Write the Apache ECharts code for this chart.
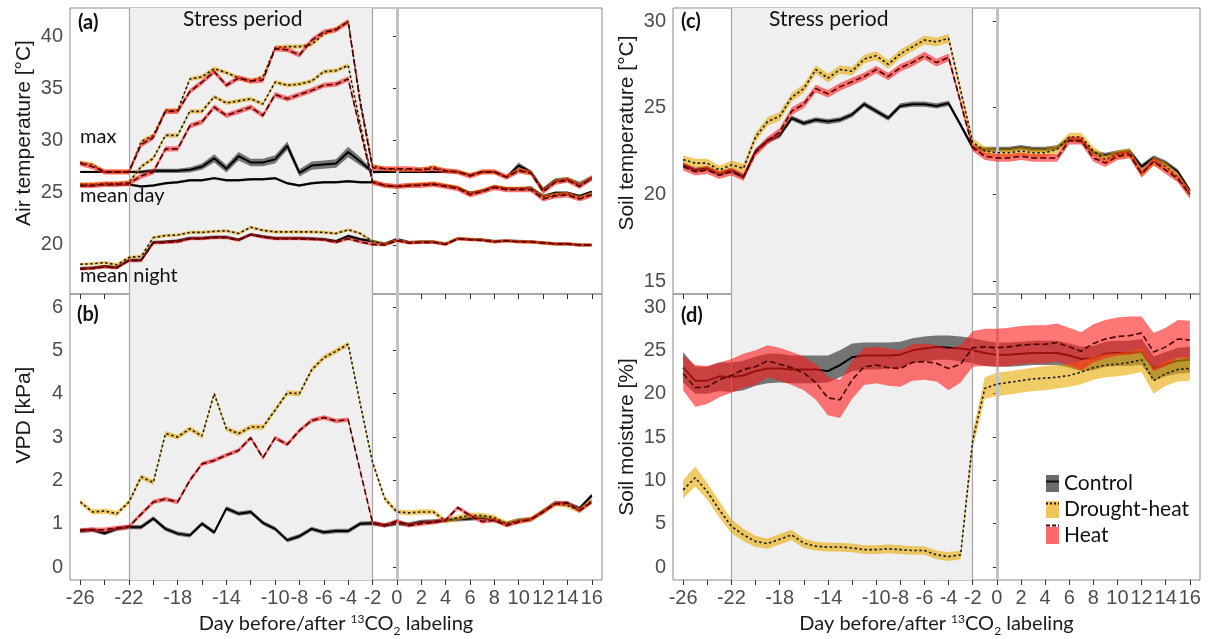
<!DOCTYPE html>
<html><head><meta charset="utf-8">
<script src="https://cdn.jsdelivr.net/npm/echarts@6/dist/echarts.min.js"></script>
<style>html,body{margin:0;padding:0;background:#fff}#c{width:1217px;height:639px}</style>
</head><body><div id="c"></div>
<script>
// ---------- data ----------
const days = [-26,-25,-24,-23,-22,-21,-20,-19,-18,-17,-16,-15,-14,-13,-12,-11,-10,-9,-8,-7,-6,-5,-4,-3,-2,-1,0,1,2,3,4,5,6,7,8,9,10,11,12,13,14,15,16];
const tickDays = [-26,-24,-22,-20,-18,-16,-14,-12,-10,-8,-6,-4,-2,0,2,4,6,8,10,12,14,16];
const labelDays = [-26,-22,-18,-14,-10,-8,-6,-4,-2,0,2,4,6,8,10,12,14,16];
const stressStart = -22, stressEnd = -2, labelDay = 0;

// (a) air temperature
const airMaxControl = [27.0,27.0,27.0,27.0,27.0,27.0,27.1,27.1,27.1,27.2,27.5,28.3,27.3,28.5,27.9,27.9,28.2,29.5,26.9,27.6,27.7,27.8,28.9,28.0,27.0,27.0,27.0,27.0,27.0,27.0,27.0,27.0,26.7,27.0,27.0,26.5,27.6,27.0,25.3,26.2,26.3,25.8,26.4];
const airMaxControlSe = [0.1,0.1,0.1,0.1,0.1,0.15,0.2,0.2,0.2,0.25,0.3,0.4,0.35,0.4,0.35,0.35,0.4,0.4,0.35,0.4,0.4,0.4,0.5,0.4,0.15,0.1,0.1,0.1,0.1,0.1,0.1,0.1,0.15,0.1,0.1,0.15,0.3,0.15,0.2,0.2,0.2,0.25,0.25];
const airMaxDrought = [27.9,27.7,27.0,27.0,27.0,29.9,30.5,32.9,32.9,35.9,36.1,36.9,36.5,36.0,35.7,36.1,38.9,39.0,39.0,39.2,40.2,40.7,41.4,33.8,27.6,27.3,27.2,27.2,27.2,27.5,27.1,27.0,26.7,27.0,27.0,26.5,27.2,26.9,25.2,26.1,26.3,25.7,26.5];
const airMaxHeat = [27.8,27.5,27.0,27.0,27.0,29.6,30.3,32.8,32.8,34.7,35.6,36.6,35.3,36.0,35.7,35.8,38.8,38.7,38.2,39.6,40.4,40.6,41.4,33.5,27.4,27.3,27.3,27.3,27.2,27.3,27.1,27.0,26.6,27.0,27.0,26.5,27.1,26.9,25.1,26.0,26.2,25.6,26.4];
const airDayControl = [25.7,25.7,25.8,25.8,25.8,25.6,25.7,25.9,26.0,26.2,26.2,26.4,26.2,26.2,26.3,26.3,26.4,25.9,25.7,25.9,26.0,26.0,26.1,26.0,26.0,25.7,25.6,25.7,25.8,25.8,25.7,25.5,25.0,25.2,25.6,25.4,25.4,25.5,24.7,25.0,25.0,24.7,25.1];
const airDayDrought = [25.8,25.8,25.9,25.9,26.0,27.5,28.3,30.5,30.5,32.8,32.8,34.2,33.6,33.8,34.0,33.5,35.6,35.3,35.4,35.7,36.6,36.7,37.2,31.5,26.1,25.7,25.6,25.7,25.8,25.9,25.7,25.5,24.9,25.2,25.6,25.4,25.4,25.4,24.6,24.8,24.9,24.5,24.9];
const airDayHeat = [25.7,25.7,25.8,25.8,25.9,26.6,27.0,29.2,29.2,31.4,31.8,33.2,32.4,32.8,33.2,32.4,34.4,34.0,34.4,34.8,35.3,35.4,35.9,31.0,26.0,25.7,25.6,25.7,25.7,25.8,25.6,25.4,24.8,25.1,25.5,25.3,25.3,25.3,24.4,24.7,24.8,24.4,24.8];
const airNightControl = [17.75,17.8,17.95,17.85,18.55,18.55,20.25,20.3,20.4,20.65,20.65,20.75,20.75,20.5,21.0,20.8,20.65,20.65,20.65,20.6,20.55,20.35,20.85,20.55,20.35,20.1,20.55,20.25,20.3,20.3,20.1,20.6,20.55,20.5,20.35,20.4,20.35,20.3,20.2,20.1,20.1,20.0,20.0];
const airNightDrought = [18.15,18.2,18.3,18.1,18.8,18.9,20.7,20.9,20.95,21.2,21.2,21.3,21.35,21.1,21.7,21.4,21.25,21.25,21.25,21.25,21.2,21.1,21.45,21.1,20.35,20.05,20.45,20.2,20.3,20.3,20.1,20.6,20.55,20.45,20.3,20.4,20.3,20.3,20.2,20.1,20.1,20.0,20.0];
const airNightHeat = [17.7,17.75,17.9,17.8,18.5,18.5,20.2,20.25,20.3,20.6,20.6,20.7,20.7,20.45,21.0,20.75,20.6,20.6,20.6,20.55,20.5,20.25,20.6,20.3,20.05,20.0,20.4,20.2,20.25,20.25,20.05,20.6,20.5,20.45,20.3,20.4,20.3,20.3,20.2,20.1,20.1,20.0,20.0];
const airSeDrought = 0.2, airSeHeat = 0.25, airNightSe = 0.15;

// (b) VPD
const vpdControl = [0.83,0.86,0.78,0.88,0.92,0.92,1.12,0.88,0.77,0.73,1.0,0.8,1.35,1.23,1.27,1.02,0.88,0.62,0.71,0.88,0.8,0.83,0.83,1.0,1.01,0.96,1.01,0.98,1.04,1.05,1.08,1.1,1.12,1.14,1.08,1.0,1.08,1.1,1.29,1.48,1.46,1.35,1.65];
const vpdDrought = [1.5,1.27,1.29,1.23,1.5,2.08,1.95,3.08,3.0,3.19,3.02,4.0,3.19,3.08,3.23,3.23,3.62,4.02,4.0,4.55,4.83,4.98,5.14,3.75,2.42,1.58,1.27,1.25,1.27,1.27,1.06,1.14,1.19,1.19,1.14,1.0,1.06,1.1,1.27,1.46,1.42,1.3,1.54];
const vpdHeat = [0.85,0.86,0.86,0.9,0.93,1.22,1.5,1.57,1.5,2.0,2.38,2.46,2.58,2.69,2.98,2.52,2.98,2.83,3.15,3.38,3.45,3.37,3.4,2.2,1.02,0.96,1.06,0.96,1.0,1.03,1.08,1.37,1.19,1.05,1.08,0.96,1.04,1.1,1.27,1.46,1.48,1.3,1.5];
const vpdSeControl = 0.05, vpdSeDrought = 0.06, vpdSeHeat = 0.05;

// (c) soil temperature
const soilControl = [21.7,21.4,21.5,21.2,21.4,21.0,22.5,23.1,23.4,24.4,24.1,24.3,24.2,24.3,24.6,25.2,24.8,24.4,25.1,25.2,25.2,25.1,25.25,24.0,22.7,22.6,22.6,22.6,22.7,22.6,22.6,22.7,23.2,23.1,22.4,22.25,22.4,22.5,21.6,22.1,21.8,21.3,20.2];
const soilDrought = [22.0,21.8,21.8,21.4,21.7,21.5,23.3,24.2,24.5,25.6,26.1,27.2,26.7,27.2,27.1,27.8,28.0,27.5,28.1,28.5,28.9,28.8,29.0,26.0,23.0,22.5,22.4,22.4,22.5,22.4,22.4,22.6,23.3,23.3,22.5,22.0,22.3,22.4,21.2,21.9,21.6,21.0,20.0];
const soilHeat = [21.6,21.3,21.4,21.1,21.3,21.0,22.4,23.1,23.6,24.8,25.2,26.1,25.8,26.2,26.5,26.8,27.2,26.8,27.3,27.6,28.0,27.6,27.9,25.3,22.7,22.2,22.1,22.1,22.2,22.1,22.1,22.1,23.1,23.1,22.1,21.8,22.2,22.3,21.2,21.9,21.4,20.9,20.0];
const soilSeControl = 0.15, soilSeDrought = 0.25, soilSeHeat = 0.22;

// (d) soil moisture
const smControl = [23.0,21.5,21.5,22.0,21.9,22.1,22.6,22.9,22.9,22.8,22.8,22.8,22.6,23.3,24.2,24.4,24.4,24.4,24.5,25.0,25.2,25.4,25.3,25.2,25.0,24.7,24.5,24.5,24.6,24.7,24.7,24.7,24.4,24.0,24.1,24.6,24.7,24.7,24.8,22.9,23.4,23.8,23.9];
const smControlLo = [21.3,20.0,20.0,20.3,20.2,20.4,20.9,21.2,21.3,21.2,21.2,21.2,21.3,21.9,22.6,22.8,22.8,22.9,23.0,23.5,23.7,23.9,23.9,23.7,23.5,23.2,23.1,23.1,23.2,23.3,23.3,23.3,23.0,22.6,22.7,23.1,23.2,23.2,23.3,21.5,22.0,22.3,22.4];
const smControlHi = [24.8,23.1,23.1,23.6,23.6,23.8,24.3,24.6,24.6,24.4,24.4,24.4,24.4,25.0,25.8,25.9,25.9,25.9,26.0,26.4,26.6,26.7,26.7,26.6,26.4,26.1,25.9,25.9,26.0,26.1,26.1,26.1,25.8,25.4,25.5,26.0,26.1,26.1,26.3,24.3,24.8,25.3,25.4];
const smDrought = [8.9,10.3,8.7,6.6,4.7,3.7,2.95,2.7,3.2,3.7,2.75,2.4,2.3,2.3,2.2,2.0,2.0,2.1,2.0,1.9,1.9,1.4,1.2,1.4,14.6,20.6,21.1,21.3,21.5,21.7,21.8,21.9,22.1,22.5,23.0,23.3,23.4,23.6,23.9,21.5,22.3,22.8,22.9];
const smDroughtLo = [7.9,9.3,7.8,5.7,3.9,3.0,2.3,2.1,2.6,3.1,2.2,1.9,1.8,1.8,1.7,1.5,1.5,1.6,1.5,1.4,1.4,0.9,0.7,0.9,13.6,19.4,19.7,19.9,20.1,20.3,20.4,20.6,20.8,21.1,21.6,21.9,22.0,22.2,22.5,20.0,20.9,21.4,21.5];
const smDroughtHi = [10.0,11.6,9.7,7.6,5.5,4.4,3.6,3.3,3.8,4.3,3.3,2.9,2.8,2.8,2.7,2.5,2.5,2.6,2.5,2.4,2.4,1.9,1.7,1.9,15.6,21.9,22.4,22.6,22.8,23.0,23.2,23.3,23.4,23.8,24.3,24.6,24.7,24.9,25.3,23.0,23.7,24.2,24.3];
const smHeat = [22.3,20.7,20.8,21.6,22.1,22.8,23.1,23.8,23.4,23.0,22.4,21.3,19.5,19.3,21.6,23.1,23.3,23.0,22.9,23.6,23.7,23.5,22.9,23.4,25.3,25.4,25.3,25.4,25.6,25.7,25.7,25.9,25.4,24.9,25.8,26.3,26.6,26.7,27.0,24.8,25.4,26.3,26.2];
const smHeatLo = [20.4,18.5,18.8,19.6,20.1,20.7,21.0,21.9,21.5,21.0,20.4,19.3,17.5,17.2,19.4,21.0,21.2,20.9,20.8,21.5,21.6,21.4,20.4,21.3,23.1,23.2,23.1,23.2,23.4,23.5,23.5,23.7,23.2,22.7,23.6,24.1,24.4,24.5,24.8,22.6,23.2,24.1,24.0];
const smHeatHi = [24.4,23.3,23.2,23.6,24.0,24.6,25.0,25.6,25.3,24.8,24.3,23.4,21.9,21.6,23.7,25.3,25.4,25.2,25.0,25.7,25.8,25.6,25.2,25.6,27.2,27.5,27.5,27.6,27.8,27.9,27.9,28.1,27.6,27.1,28.0,28.5,28.8,28.9,28.9,27.0,27.6,28.5,28.4];

const treatments = ['Control','Drought-heat','Heat'];
const yTicksA = [20,25,30,35,40], yTicksB = [0,1,2,3,4,5,6], yTicksC = [15,20,25,30], yTicksD = [0,5,10,15,20,25,30];

// ---------- styles ----------
const fillC = 'rgba(40,40,40,0.62)', fillD = 'rgba(230,168,0,0.6)', fillH = 'rgba(255,26,26,0.6)';
const lnC = {color:'#000', width:2, type:'solid'};
const lnD = {color:'#1a1a1a', width:1.6, type:[2.5,2.5]};
const lnH = {color:'#4a0000', width:1.6, type:[6,3]};
const tickFont = 'Liberation Sans';
const txtFont = 'Lato';

const grids = [
  {left:70, top:8, width:532, height:286},
  {left:70, top:294, width:532, height:286},
  {left:673, top:8, width:527, height:286},
  {left:673, top:294, width:527, height:286}
].map(g => Object.assign(g, {show:true, borderColor:'#8a8a8a', borderWidth:1, backgroundColor:'transparent', containLabel:false, outerBoundsMode:'none'}));

function xAx(i, labels, name) {
  return {
    type:'value', gridIndex:i, min:-26.84, max:16.84,
    splitLine:{show:false},
    axisLine:{show:false, onZero:false},
    axisTick:{show:true, customValues:tickDays, length:5, lineStyle:{color:'#333', width:1}},
    axisLabel:{show:labels, customValues:labelDays, fontFamily:tickFont, fontSize:20, color:'#4d4d4d', margin:8},
    name: name || '', nameLocation:'middle', nameGap:31,
    nameTextStyle:{ rich:{
      t:{fontFamily:txtFont, fontSize:20, color:'#1a1a1a', lineHeight:26},
      s:{fontFamily:txtFont, fontSize:12, color:'#1a1a1a', lineHeight:26, verticalAlign:'top', padding:[2,0,0,0]},
      b:{fontFamily:txtFont, fontSize:12, color:'#1a1a1a', lineHeight:26, verticalAlign:'bottom'}
    }}
  };
}
function yAx(i, min, max, ticks, name, pad) {
  return {
    type:'value', gridIndex:i, min, max,
    splitLine:{show:false},
    axisLine:{show:false},
    axisTick:{show:true, customValues:ticks, length:4, lineStyle:{color:'#333', width:1}},
    axisLabel:{customValues:ticks, fontFamily:tickFont, fontSize:20, color:'#4d4d4d', margin:7},
    name, nameLocation:'middle', nameGap:35,
    nameTextStyle:{fontFamily:tickFont, fontSize:21, color:'#1a1a1a', padding:pad}
  };
}
const xTitle = '{t|Day before/after }{s|13}{t|CO}{b|2}{t| labeling}';

function band(name, gi, lo, hi, color, z) {
  return {
    type:'custom', name, xAxisIndex:gi, yAxisIndex:gi, z, silent:true, clip:true, animation:false,
    itemStyle:{color},
    data: days.map((d,i)=>[d, lo[i], hi[i]]),
    encode:{x:0, y:[1,2]},
    renderItem(params, api) {
      if (params.dataIndexInside !== 0) return null;
      const pts = [];
      for (let i=0;i<days.length;i++) pts.push(api.coord([days[i], hi[i]]));
      for (let i=days.length-1;i>=0;i--) pts.push(api.coord([days[i], lo[i]]));
      return {type:'polygon', shape:{points:pts}, style:{fill:color}};
    }
  };
}
function pm(vals, se) { // ribbon bounds from mean and read-off half-width
  const lo = vals.map((v,i)=> v - (Array.isArray(se)?se[i]:se));
  const hi = vals.map((v,i)=> v + (Array.isArray(se)?se[i]:se));
  return [lo, hi];
}
function line(name, gi, vals, style, z) {
  return {type:'line', name, xAxisIndex:gi, yAxisIndex:gi, z, silent:true, showSymbol:false, symbol:'none', animation:false,
    data: days.map((d,i)=>[d, vals[i]]), lineStyle:style};
}
function backdrop(gi, vals) {
  return {type:'line', name:'bg'+gi, xAxisIndex:gi, yAxisIndex:gi, z:1, silent:true, showSymbol:false, symbol:'none', animation:false,
    data: days.map((d,i)=>[d, vals[i]]), lineStyle:{opacity:0},
    markArea:{silent:true, itemStyle:{color:'#efefef'}, data:[[{xAxis:stressStart},{xAxis:stressEnd}]]},
    markLine:{silent:true, symbol:['none','none'], label:{show:false}, animation:false,
      data:[{xAxis:stressStart, lineStyle:{color:'#a6a6a6', width:1.2, type:'solid'}},
            {xAxis:stressEnd, lineStyle:{color:'#a6a6a6', width:1.2, type:'solid'}},
            {xAxis:labelDay, lineStyle:{color:'#c4c4c4', width:3, type:'solid'}}]}
  };
}

const series = [];
// panel a
series.push(backdrop(0, airMaxControl));
[[airMaxControl, airMaxControlSe],[airDayControl, 0.12],[airNightControl, airNightSe]].forEach(([v,s],k)=>{
  const [lo,hi] = pm(v,s); series.push(band('aC'+k,0,lo,hi,fillC,2)); series.push(line('aCl'+k,0,v,lnC,3));
});
[airMaxDrought, airDayDrought, airNightDrought].forEach((v,k)=>{
  const [lo,hi] = pm(v, k===2?airNightSe:airSeDrought); series.push(band('aD'+k,0,lo,hi,fillD,4)); series.push(line('aDl'+k,0,v,lnD,5));
});
[airMaxHeat, airDayHeat, airNightHeat].forEach((v,k)=>{
  const [lo,hi] = pm(v, k===2?airNightSe:airSeHeat); series.push(band('aH'+k,0,lo,hi,fillH,6)); series.push(line('aHl'+k,0,v,lnH,7));
});
// panel b
series.push(backdrop(1, vpdControl));
(()=>{ const [lo,hi]=pm(vpdControl,vpdSeControl); series.push(band('bC',1,lo,hi,fillC,2)); series.push(line('bCl',1,vpdControl,lnC,3)); })();
(()=>{ const [lo,hi]=pm(vpdDrought,vpdSeDrought); series.push(band('bD',1,lo,hi,fillD,4)); series.push(line('bDl',1,vpdDrought,lnD,5)); })();
(()=>{ const [lo,hi]=pm(vpdHeat,vpdSeHeat); series.push(band('bH',1,lo,hi,fillH,6)); series.push(line('bHl',1,vpdHeat,lnH,7)); })();
// panel c
series.push(backdrop(2, soilControl));
(()=>{ const [lo,hi]=pm(soilControl,soilSeControl); series.push(band('cC',2,lo,hi,fillC,2)); series.push(line('cCl',2,soilControl,lnC,3)); })();
(()=>{ const [lo,hi]=pm(soilDrought,soilSeDrought); series.push(band('cD',2,lo,hi,fillD,4)); series.push(line('cDl',2,soilDrought,lnD,5)); })();
(()=>{ const [lo,hi]=pm(soilHeat,soilSeHeat); series.push(band('cH',2,lo,hi,fillH,6)); series.push(line('cHl',2,soilHeat,lnH,7)); })();
// panel d
series.push(backdrop(3, smControl));
series.push(band(treatments[0],3,smControlLo,smControlHi,fillC,2)); series.push(line('dCl',3,smControl,lnC,3));
series.push(band(treatments[1],3,smDroughtLo,smDroughtHi,fillD,4)); series.push(line('dDl',3,smDrought,lnD,5));
series.push(band(treatments[2],3,smHeatLo,smHeatHi,fillH,6)); series.push(line('dHl',3,smHeat,lnH,7));

const legTop = 473, legLeft = 1046, legStep = 22, legW = 13, legH = 17;
const txt = (text, left, top, size, bold) => ({type:'text', left, top, z:50, silent:true,
  style:{text, fontFamily:txtFont, fontSize:size, fontWeight:bold?'bold':'normal', fill:'#111'}});
const keyLine = (k, dash) => ({type:'line', z:60, silent:true,
  shape:{x1:legLeft, y1:legTop+k*legStep+legH/2, x2:legLeft+legW, y2:legTop+k*legStep+legH/2},
  style:{stroke:k===2?'#4a0000':'#111', lineWidth:2, lineDash:dash}});

const option = {
  animation:false,
  grid: grids,
  xAxis: [xAx(0,false), xAx(1,true,xTitle), xAx(2,false), xAx(3,true,xTitle)],
  yAxis: [
    yAx(0, 15.3, 42.7, yTicksA, 'Air temperature [°C]', [0,0,0,36]),
    yAx(1, -0.3, 6.3, yTicksB, 'VPD [kPa]', [0,0,0,44]),
    yAx(2, 14.25, 30.75, yTicksC, 'Soil temperature [°C]', [0,0,0,36]),
    yAx(3, -1.5, 31.5, yTicksD, 'Soil moisture [%]', [0,0,0,0])
  ],
  legend: {orient:'vertical', left:legLeft, top:legTop, padding:0, itemWidth:legW, itemHeight:legH, itemGap:legStep-legH,
    selectedMode:false, icon:'rect',
    textStyle:{fontFamily:txtFont, fontSize:21, color:'#111', lineHeight:legH},
    data:[{name:treatments[0], itemStyle:{color:'#6b6b6b'}},
          {name:treatments[1], itemStyle:{color:'#f0c65a'}},
          {name:treatments[2], itemStyle:{color:'#ff6b6b'}}]},
  graphic: [
    txt('(a)', 78, 13, 20, true), txt('(b)', 77, 305, 20, true),
    txt('(c)', 681, 12, 20, true), txt('(d)', 681, 306, 20, true),
    txt('Stress period', 183, 9, 21), txt('Stress period', 769, 9, 21),
    txt('max', 80, 127, 20), txt('mean day', 80, 186, 20), txt('mean night', 80, 266, 20),
    keyLine(0, null), keyLine(1, [2,2]), keyLine(2, [4,2])
  ],
  series
};
const chart = echarts.init(document.getElementById('c'));
chart.setOption(option);
</script></body></html>
